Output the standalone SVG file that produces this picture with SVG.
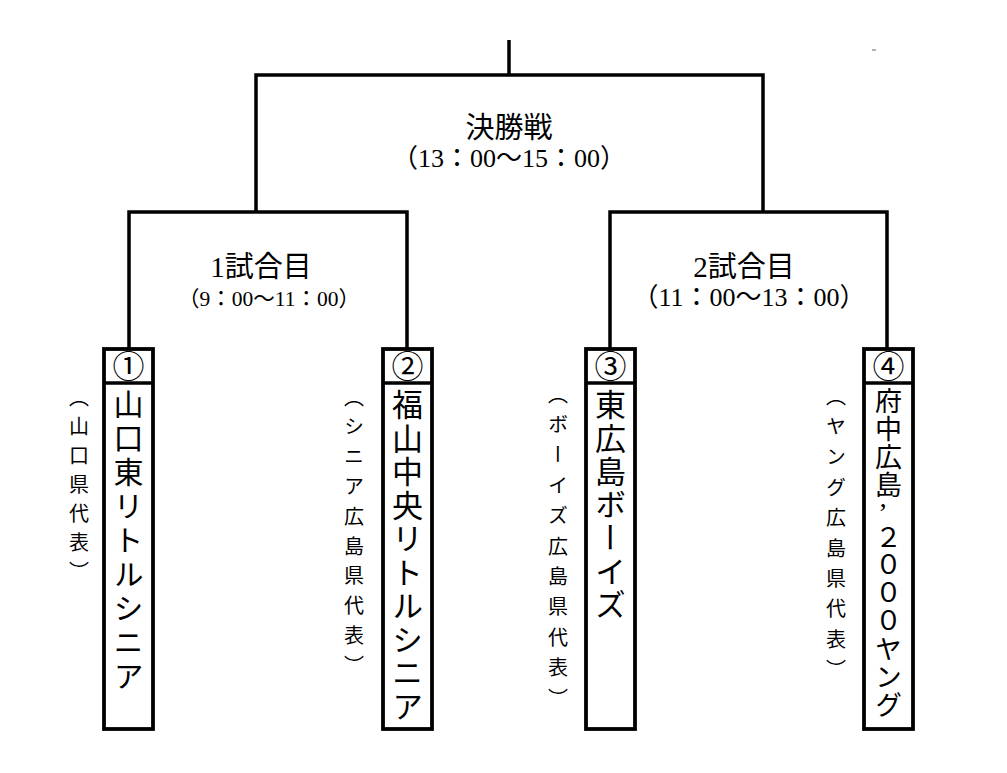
<svg xmlns="http://www.w3.org/2000/svg" width="1007" height="773" viewBox="0 0 1007 773">
<style>
.ln{fill:none;stroke:#000;stroke-width:3.5;stroke-linejoin:miter}
.box{fill:#fff;stroke:#000;stroke-width:3.8}
.t{font-family:"Liberation Serif","Noto Sans CJK JP",serif;fill:#000;text-anchor:middle}
.v{font-family:"Noto Sans CJK JP","Liberation Serif",sans-serif;fill:#000;writing-mode:vertical-rl}
.num{font-family:"Noto Sans CJK JP","DejaVu Sans",sans-serif;fill:#000;text-anchor:middle;font-size:32px}
</style>
<rect width="1007" height="773" fill="#fff"/>
<g id="connectors">
<path class="ln" d="M509,40 V75"/>
<path class="ln" d="M256,212 V75 H763 V212"/>
<path class="ln" d="M129,349 V212 H407 V349"/>
<path class="ln" d="M610,349 V212 H887 V349"/>
<path d="M872,50 H876" stroke="#666" stroke-width="1"/>
</g>
<g id="final">
<text class="t" x="509" y="138" font-size="29">決勝戦</text>
<text class="t" x="509" y="167" font-size="26">（13：00～15：00）</text>
</g>
<g id="match1">
<text class="t" x="261" y="277" font-size="29">1試合目</text>
<text class="t" x="269" y="306" font-size="21.5">（9：00～11：00）</text>
</g>
<g id="match2">
<text class="t" x="744" y="277" font-size="29">2試合目</text>
<text class="t" x="749" y="306" font-size="26">（11：00～13：00）</text>
</g>
<g id="team1">
<rect class="box" x="104" y="349" width="49" height="380"/>
<line class="ln" x1="104" y1="383" x2="153" y2="383"/>
<text class="num" x="128.5" y="378">①</text>
<text class="v" x="128.5" y="389" font-size="30" letter-spacing="4">山口東リトルシニア</text>
<text class="v" x="79" y="387" font-size="20" letter-spacing="9">（山口県代表）</text>
</g>
<g id="team2">
<rect class="box" x="383" y="349" width="49" height="380"/>
<line class="ln" x1="383" y1="383" x2="432" y2="383"/>
<text class="num" x="407.5" y="378">②</text>
<text class="v" x="407.5" y="389" font-size="31" letter-spacing="2.5">福山中央リトルシニア</text>
<text class="v" x="354" y="387" font-size="20" letter-spacing="9.8">（シニア広島県代表）</text>
</g>
<g id="team3">
<rect class="box" x="586" y="349" width="49" height="380"/>
<line class="ln" x1="586" y1="383" x2="635" y2="383"/>
<text class="num" x="610.5" y="378">③</text>
<text class="v" x="610.5" y="389" font-size="31" letter-spacing="2.3">東広島ボーイズ</text>
<text class="v" x="558" y="384" font-size="20" letter-spacing="10.4">（ボーイズ広島県代表）</text>
</g>
<g id="team4">
<rect class="box" x="864" y="349" width="49" height="380"/>
<line class="ln" x1="864" y1="383" x2="913" y2="383"/>
<text class="num" x="888.5" y="378">④</text>
<text class="v" x="888.5" y="387" font-size="27" letter-spacing="1">府中広島</text>
<text class="t" x="883" y="522" font-size="28">’</text>
<text class="v" x="888.5" y="523" font-size="27" letter-spacing="1">２０００ヤング</text>
<text class="v" x="836" y="386" font-size="20" letter-spacing="10.4">（ヤング広島県代表）</text>
</g>
</svg>
